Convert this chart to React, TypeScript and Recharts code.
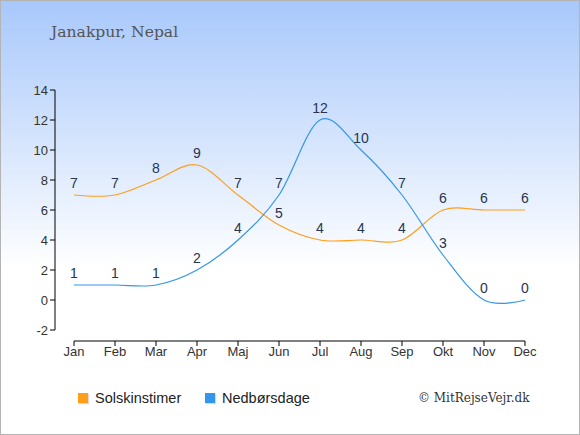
import React from 'react';
import { LineChart, Line, XAxis, YAxis, LabelList, Legend } from 'recharts';

const months = ['Jan', 'Feb', 'Mar', 'Apr', 'Maj', 'Jun', 'Jul', 'Aug', 'Sep', 'Okt', 'Nov', 'Dec'];
const sunHours = [7, 7, 8, 9, 7, 5, 4, 4, 4, 6, 6, 6];
const rainDays = [1, 1, 1, 2, 4, 7, 12, 10, 7, 3, 0, 0];
const yTicks = [-2, 0, 2, 4, 6, 8, 10, 12, 14];
const legendOrder = ['Solskinstimer', 'Nedbørsdage'];

const data = months.map((month, i) => ({ month, sun: sunHours[i], rain: rainDays[i] }));

// cardinal spline (tension 0), same as d3's curveCardinal
class Cardinal {
  _context: any;
  _k = 1 / 6;
  _line: any;
  _point = 0;
  _x0 = NaN; _x1 = NaN; _x2 = NaN;
  _y0 = NaN; _y1 = NaN; _y2 = NaN;
  constructor(context: any) { this._context = context; }
  areaStart() { this._line = 0; }
  areaEnd() { this._line = NaN; }
  lineStart() {
    this._x0 = this._x1 = this._x2 = this._y0 = this._y1 = this._y2 = NaN;
    this._point = 0;
  }
  lineEnd() {
    switch (this._point) {
      case 2: this._context.lineTo(this._x2, this._y2); break;
      case 3: this.bez(this._x1, this._y1); break;
    }
    if (this._line || (this._line !== 0 && this._point === 1)) this._context.closePath();
    this._line = 1 - this._line;
  }
  bez(x: number, y: number) {
    this._context.bezierCurveTo(
      this._x1 + this._k * (this._x2 - this._x0),
      this._y1 + this._k * (this._y2 - this._y0),
      this._x2 + this._k * (this._x1 - x),
      this._y2 + this._k * (this._y1 - y),
      this._x2,
      this._y2
    );
  }
  point(x: number, y: number) {
    x = +x; y = +y;
    switch (this._point) {
      case 0:
        this._point = 1;
        this._line ? this._context.lineTo(x, y) : this._context.moveTo(x, y);
        break;
      case 1:
        this._point = 2;
        this._x1 = x; this._y1 = y;
        break;
      case 2:
        this._point = 3;
        this.bez(x, y);
        break;
      default:
        this.bez(x, y);
        break;
    }
    this._x0 = this._x1; this._x1 = this._x2; this._x2 = x;
    this._y0 = this._y1; this._y1 = this._y2; this._y2 = y;
  }
}
const cardinal: any = (context: any) => new Cardinal(context);

const sans = '"Liberation Sans", Arial, sans-serif';
const serif = '"DejaVu Serif", serif';

const renderLegend = ({ payload }: any) => {
  const items = [...(payload || [])].sort(
    (a: any, b: any) => legendOrder.indexOf(a.value) - legendOrder.indexOf(b.value)
  );
  return (
    <div style={{ display: 'flex', fontFamily: sans, fontSize: 14.5, color: '#222' }}>
      {items.map((p: any) => (
        <div key={p.value} style={{ display: 'flex', alignItems: 'center', width: 127 }}>
          <span
            style={{
              display: 'inline-block',
              width: 10,
              height: 10,
              background: p.color,
              boxShadow: '1px 1px 1px rgba(0,0,0,0.15)',
              marginRight: 7,
            }}
          />
          {p.value}
        </div>
      ))}
    </div>
  );
};

export default function App() {
  return (
    <div
      style={{
        position: 'absolute',
        top: 0,
        left: 0,
        width: 580,
        height: 435,
        boxSizing: 'border-box',
        border: '1px solid #b4b4b4',
        background: 'linear-gradient(to bottom, #a8c8fb 0%, #ffffff 62%, #ffffff 100%)',
        overflow: 'hidden',
      }}
    >
      <div
        style={{
          position: 'absolute',
          left: 50,
          top: 22,
          fontFamily: serif,
          fontSize: 15.6,
          color: '#555',
        }}
      >
        Janakpur, Nepal
      </div>
      <div
        style={{
          position: 'absolute',
          left: 417,
          top: 390,
          fontFamily: serif,
          fontSize: 12,
          color: '#333',
        }}
      >
        © MitRejseVejr.dk
      </div>
      <div style={{ position: 'absolute', left: -1, top: -1 }}>
        <LineChart width={580} height={435} data={data} margin={{ top: 90, right: 55, bottom: 64, left: 15 }}>
          <XAxis
            xAxisId="b"
            dataKey="month"
            height={30}
            interval={0}
            tickSize={5}
            tickMargin={1}
            stroke="#000"
            tick={{ fill: '#333', fontSize: 13, fontFamily: sans }}
          />
          <XAxis xAxisId="a" dataKey="month" height={11} tick={false} axisLine={false} tickLine={false} />
          <YAxis
            yAxisId="b"
            type="number"
            domain={[-2, 14]}
            ticks={yTicks}
            interval={0}
            width={40}
            tickSize={5}
            stroke="#000"
            tick={{ fill: '#333', fontSize: 13, fontFamily: sans }}
          />
          <YAxis yAxisId="a" type="number" domain={[-2, 14]} width={19} tick={false} axisLine={false} tickLine={false} />
          <Legend
            content={renderLegend}
            layout="horizontal"
            verticalAlign="middle"
            align="center"
            wrapperStyle={{ top: 390, left: 78, width: 300 }}
          />
          <Line
            xAxisId="b"
            yAxisId="b"
            dataKey="sun"
            name="Solskinstimer"
            type={cardinal}
            stroke="#ff9e1a"
            strokeWidth={1.2}
            dot={false}
            activeDot={false}
            isAnimationActive={false}
          >
            <LabelList dataKey="sun" position="top" offset={7} fill="#283550" fontSize={14} fontFamily={sans} />
          </Line>
          <Line
            xAxisId="b"
            yAxisId="b"
            dataKey="rain"
            name="Nedbørsdage"
            type={cardinal}
            stroke="#3396ea"
            strokeWidth={1.2}
            dot={false}
            activeDot={false}
            isAnimationActive={false}
          >
            <LabelList dataKey="rain" position="top" offset={7} fill="#283550" fontSize={14} fontFamily={sans} />
          </Line>
        </LineChart>
      </div>
    </div>
  );
}
